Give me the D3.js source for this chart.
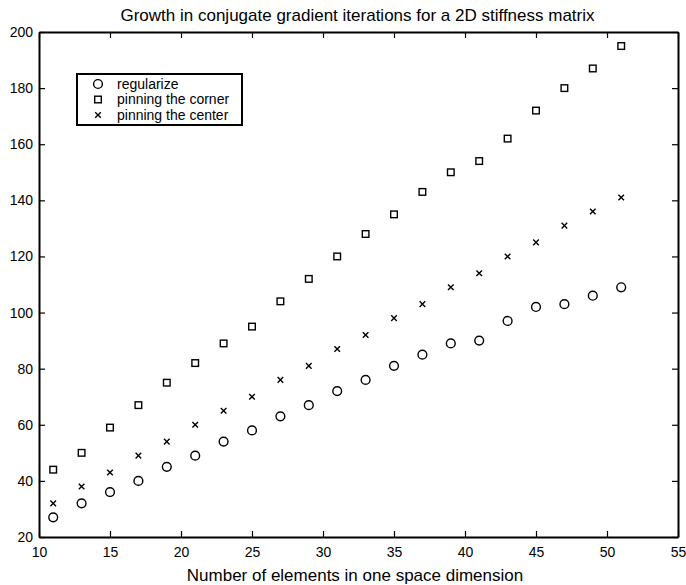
<!DOCTYPE html>
<html>
<head>
<meta charset="utf-8">
<script src="https://cdn.jsdelivr.net/npm/d3@7"></script>
<style>
  body { margin: 0; background: #fff; }
  svg text { font-family: "Liberation Sans", Arial, sans-serif; fill: #000; }
</style>
</head>
<body>
<svg id="chart" width="686" height="585"></svg>
<script>
const sizes = [11, 13, 15, 17, 19, 21, 23, 25, 27, 29, 31, 33, 35, 37, 39, 41, 43, 45, 47, 49, 51];
const regularize = [27, 32, 36, 40, 45, 49, 54, 58, 63, 67, 72, 76, 81, 85, 89, 90, 97, 102, 103, 106, 109];
const pinCorner = [44, 50, 59, 67, 75, 82, 89, 95, 104, 112, 120, 128, 135, 143, 150, 154, 162, 172, 180, 187, 195];
const pinCenter = [32, 38, 43, 49, 54, 60, 65, 70, 76, 81, 87, 92, 98, 103, 109, 114, 120, 125, 131, 136, 141];
const xTicks = [10, 15, 20, 25, 30, 35, 40, 45, 50, 55];
const yTicks = [20, 40, 60, 80, 100, 120, 140, 160, 180, 200];

const series = [
  { name: 'regularize', shape: 'circle', values: regularize },
  { name: 'pinning the corner', shape: 'square', values: pinCorner },
  { name: 'pinning the center', shape: 'cross', values: pinCenter },
];

const W = 686, H = 585;
const m = { left: 39, right: 8, top: 32, bottom: 48 };
const svg = d3.select('#chart');

const x = d3.scaleLinear([10, 55], [m.left, W - m.right]);
const y = d3.scaleLinear([20, 200], [H - m.bottom, m.top]);

// marker drawing
function marker(g, shape) {
  if (shape === 'circle') {
    g.append('circle').attr('r', 4.4).attr('fill', 'none').attr('stroke', '#000').attr('stroke-width', 1.4);
  } else if (shape === 'square') {
    g.append('rect').attr('x', -3.3).attr('y', -3.3).attr('width', 6.6).attr('height', 6.6)
      .attr('fill', 'none').attr('stroke', '#000').attr('stroke-width', 1.4);
  } else {
    g.append('path').attr('d', 'M-2.8,-2.8L2.8,2.8M-2.8,2.8L2.8,-2.8').attr('stroke', '#000').attr('stroke-width', 1.4);
  }
}

// axes, ticks pointing inward, box on all sides
const tick = 6;
svg.append('g').attr('transform', `translate(0,${y(20)})`)
  .call(d3.axisBottom(x).tickValues(xTicks).tickSize(-tick).tickPadding(10).tickSizeOuter(0));
svg.append('g').attr('transform', `translate(0,${y(200)})`)
  .call(d3.axisTop(x).tickValues(xTicks).tickSize(-tick).tickFormat('').tickSizeOuter(0));
svg.append('g').attr('transform', `translate(${x(10)},0)`)
  .call(d3.axisLeft(y).tickValues(yTicks).tickSize(-tick).tickPadding(6).tickSizeOuter(0));
svg.append('g').attr('transform', `translate(${x(55)},0)`)
  .call(d3.axisRight(y).tickValues(yTicks).tickSize(-tick).tickFormat('').tickSizeOuter(0));

svg.selectAll('.domain').attr('stroke', '#000').attr('stroke-width', 2);
svg.selectAll('.tick line').attr('stroke', '#000').attr('stroke-width', 1.2);
svg.selectAll('.tick text').attr('font-size', 14).attr('font-family', '"Liberation Sans", Arial, sans-serif');

// points
series.forEach(s => {
  const g = svg.append('g');
  s.values.forEach((v, i) => {
    const p = g.append('g').attr('transform', `translate(${x(sizes[i])},${y(v)})`);
    marker(p, s.shape);
  });
});

// title and label
svg.append('text').attr('x', 357.5).attr('y', 21).attr('text-anchor', 'middle')
  .attr('font-size', 17).text('Growth in conjugate gradient iterations for a 2D stiffness matrix');
svg.append('text').attr('x', 355).attr('y', 581).attr('text-anchor', 'middle')
  .attr('font-size', 17).text('Number of elements in one space dimension');

// legend
const leg = svg.append('g').attr('transform', 'translate(77,74)');
leg.append('rect').attr('width', 165).attr('height', 51)
  .attr('fill', '#fff').attr('stroke', '#000').attr('stroke-width', 2);
series.forEach((s, i) => {
  const row = leg.append('g').attr('transform', `translate(21,${10 + i * 15.5})`);
  marker(row, s.shape);
  row.append('text').attr('x', 19).attr('y', 4.5).attr('font-size', 14).text(s.name);
});
</script>
</body>
</html>
